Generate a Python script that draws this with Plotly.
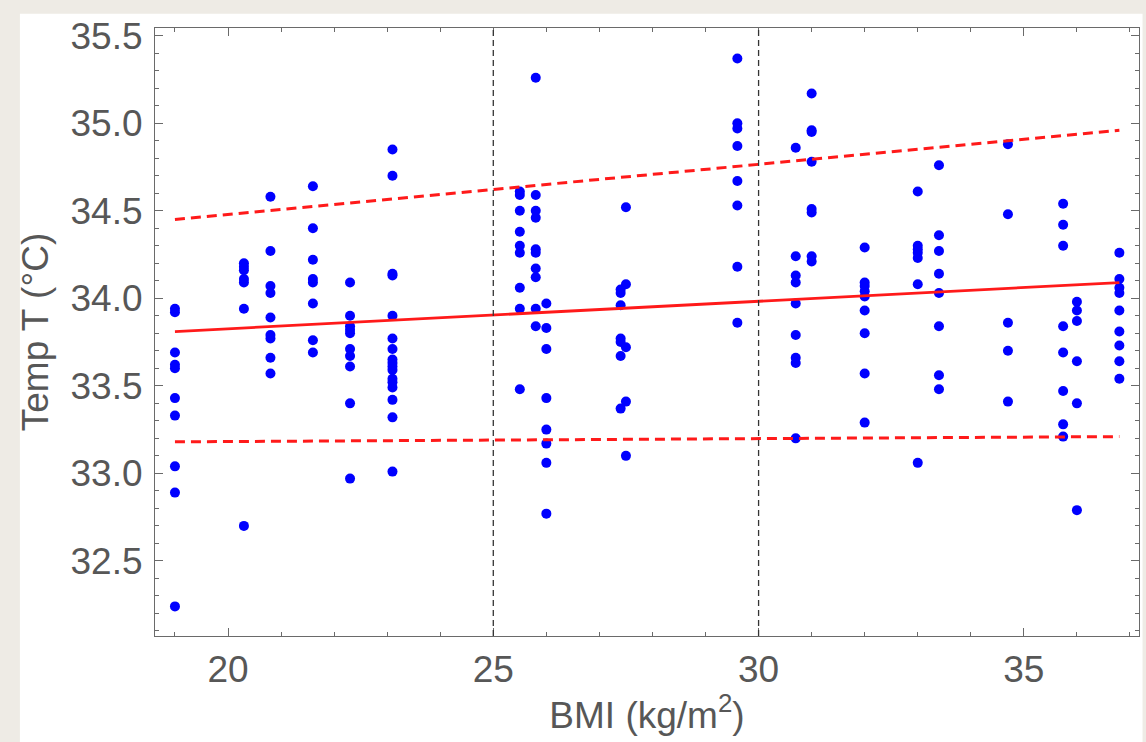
import plotly.graph_objects as go

# BMI of each subject group and the skin temperatures measured in that group
bmi_groups = [19.0, 20.3, 20.8, 21.6, 22.3, 23.1, 25.5, 25.8, 26.0, 27.4, 27.5,
              29.6, 30.7, 31.0, 32.0, 33.0, 33.4, 34.7, 35.74, 36.0, 36.8]

temps_by_group = [
    [33.94, 33.92, 33.69, 33.62, 33.60, 33.43, 33.33, 33.04, 32.89, 32.24],
    [34.20, 34.18, 34.16, 34.11, 34.09, 33.94, 32.70],
    [34.58, 34.27, 34.07, 34.03, 33.89, 33.79, 33.77, 33.66, 33.57],
    [34.64, 34.40, 34.22, 34.11, 34.09, 33.97, 33.76, 33.69],
    [34.09, 33.90, 33.84, 33.82, 33.80, 33.71, 33.67, 33.61, 33.40, 32.97],
    [34.85, 34.70, 34.14, 34.13, 33.90, 33.77, 33.71, 33.65, 33.63, 33.61,
     33.59, 33.54, 33.52, 33.49, 33.42, 33.32, 33.01],
    [34.61, 34.59, 34.50, 34.38, 34.30, 34.26, 34.06, 33.94, 33.48],
    [35.26, 34.59, 34.50, 34.46, 34.28, 34.26, 34.17, 34.12, 33.94, 33.84],
    [33.97, 33.83, 33.71, 33.43, 33.25, 33.17, 33.06, 32.77],
    [34.05, 34.03, 33.96, 33.77, 33.75, 33.67, 33.37],
    [34.52, 34.08, 33.72, 33.41, 33.10],
    [35.37, 35.00, 34.97, 34.87, 34.67, 34.53, 34.18, 33.86],
    [34.86, 34.24, 34.13, 34.09, 33.97, 33.79, 33.66, 33.63, 33.20],
    [35.17, 34.96, 34.95, 34.78, 34.51, 34.49, 34.24, 34.21],
    [34.29, 34.09, 34.07, 34.04, 34.01, 33.93, 33.80, 33.57, 33.29],
    [34.61, 34.30, 34.28, 34.26, 34.23, 34.08, 33.06],
    [34.76, 34.36, 34.27, 34.14, 34.03, 33.84, 33.56, 33.48],
    [34.88, 34.48, 33.86, 33.70, 33.41],
    [34.54, 34.42, 34.30, 33.84, 33.69, 33.47, 33.28, 33.21],
    [33.98, 33.93, 33.87, 33.64, 33.40, 32.79],
    [34.26, 34.11, 34.06, 34.03, 33.93, 33.81, 33.73, 33.64, 33.54],
]

# Linear fit and its band, evaluated at the ends of the BMI range
fit_bmi = [19.0, 36.8]
fit_temp = [33.81, 34.09]
band_upper = [34.45, 34.96]
band_lower = [33.18, 33.21]

# BMI category boundaries (overweight, obese)
bmi_cutoffs = [25, 30]

x_ticks = [20, 25, 30, 35]
y_ticks = [32.5, 33.0, 33.5, 34.0, 34.5, 35.0, 35.5]

bmi_points = [b for b, ts in zip(bmi_groups, temps_by_group) for _ in ts]
temp_points = [t for ts in temps_by_group for t in ts]

TEXT = "#575757"
AXIS = "#6a6a6a"
FONT = "Liberation Sans, Arial, Helvetica, sans-serif"
RED = "#ff1a1a"

fig = go.Figure()

fig.add_trace(go.Scatter(
    x=bmi_points, y=temp_points, mode="markers",
    marker=dict(color="#0000ff", size=10, line=dict(width=0)),
    showlegend=False, hoverinfo="x+y",
))

for band in (band_upper, band_lower):
    fig.add_trace(go.Scatter(
        x=fit_bmi, y=band, mode="lines",
        line=dict(color=RED, width=3, dash="10px,6px"), showlegend=False,
    ))
fig.add_trace(go.Scatter(
    x=fit_bmi, y=fit_temp, mode="lines",
    line=dict(color=RED, width=2.8), showlegend=False,
))

# vertical reference lines at the category boundaries
for c in bmi_cutoffs:
    fig.add_shape(type="line", x0=c, x1=c, y0=0, y1=1, xref="x", yref="paper",
                  line=dict(color="#333333", width=1.3, dash="6px,4px"), layer="above")

# white card behind the chart on the textured page
fig.add_shape(type="rect", xref="paper", yref="paper",
              x0=-0.1373, x1=1.0036, y0=-0.176, y1=1.0235,
              fillcolor="white", line=dict(width=0), layer="below")

axis_common = dict(
    showgrid=False, zeroline=False,
    showline=True, linecolor=AXIS, linewidth=1.2, mirror="allticks",
    ticks="inside", ticklen=8, tickwidth=1.2, tickcolor=AXIS,
    tickfont=dict(family=FONT, size=37, color=TEXT),
)

fig.update_layout(
    width=1146, height=742,
    margin=dict(l=155, r=7, t=28, b=106),
    paper_bgcolor="#eeebe5",
    plot_bgcolor="white",
    font=dict(family=FONT, color=TEXT),
    xaxis=dict(
        range=[18.624, 37.17], tickvals=x_ticks, ticktext=[str(v) for v in x_ticks],
        minor=dict(dtick=1, tick0=0, ticks="inside", ticklen=4, tickcolor=AXIS, tickwidth=1),
        title=dict(text="BMI (kg/m<sup>2</sup>)", font=dict(family=FONT, size=37, color=TEXT),
                   standoff=6),
        **axis_common,
    ),
    yaxis=dict(
        range=[32.071, 35.544], tickvals=y_ticks, ticktext=[f"{v:.1f}" for v in y_ticks],
        minor=dict(dtick=0.1, tick0=0, ticks="inside", ticklen=4, tickcolor=AXIS, tickwidth=1),
        title=dict(text="Temp T (°C)", font=dict(family=FONT, size=37, color=TEXT),
                   standoff=10),
        ticklabelstandoff=4,
        **axis_common,
    ),
)

fig.write_html("out.html")
